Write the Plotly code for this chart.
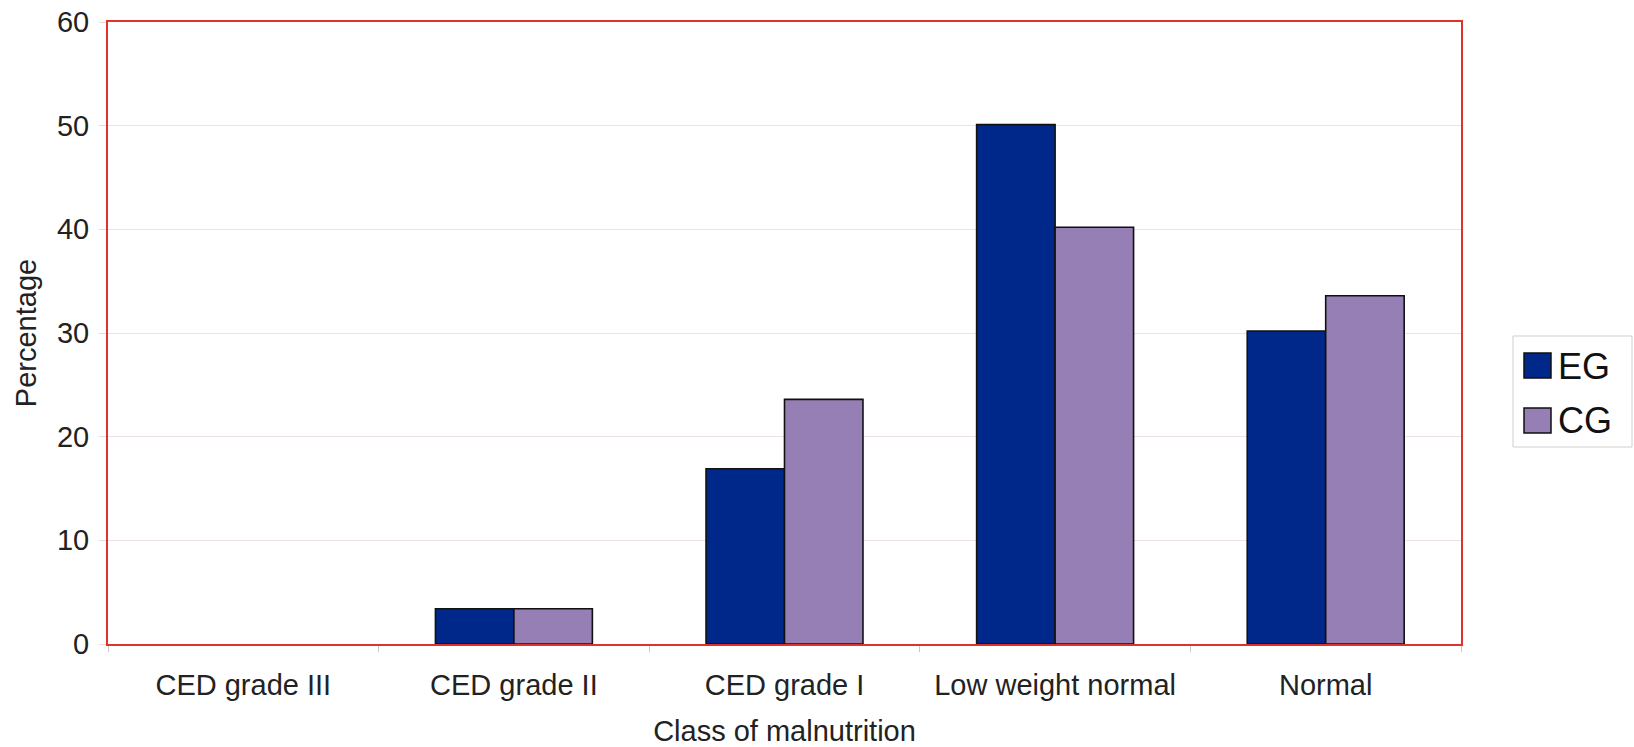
import plotly.graph_objects as go

# Share of subjects in each malnutrition class, by group
categories = ["CED grade III", "CED grade II", "CED grade I", "Low weight normal", "Normal"]
eg_values = [0, 3.4, 16.9, 50.1, 30.2]
cg_values = [0, 3.4, 23.6, 40.2, 33.6]
y_ticks = [0, 10, 20, 30, 40, 50, 60]

EG_COLOR = "#00288a"
CG_COLOR = "#967fb5"
FRAME_RED = "#e0322c"
FONT = "Liberation Sans, Arial, sans-serif"

W, H = 1634, 747
L, R, T, B = 108, 1461, 22, 644  # plot area in pixels

fig = go.Figure()
for name, vals, color in [("EG", eg_values, EG_COLOR), ("CG", cg_values, CG_COLOR)]:
    fig.add_trace(go.Bar(
        name=name, x=categories, y=vals,
        # empty bars get no outline so nothing shows along the baseline
        marker=dict(color=color,
                    line=dict(color="#111111", width=[1.6 if v > 0 else 0 for v in vals])),
        showlegend=False,
    ))

def px_x(p):
    return (p - L) / (R - L)

def px_y(p):
    return (B - p) / (B - T)

# Legend box drawn in paper space with square swatches
shapes = [dict(type="rect", xref="paper", yref="paper",
               x0=px_x(1513), x1=px_x(1632), y0=px_y(447), y1=px_y(336),
               line=dict(color="#cfcfcf", width=1), fillcolor="white")]
annotations = []
for i, (name, color) in enumerate([("EG", EG_COLOR), ("CG", CG_COLOR)]):
    top = 353 + i * 55
    shapes.append(dict(type="rect", xref="paper", yref="paper",
                       x0=px_x(1524), x1=px_x(1551), y0=px_y(top + 25), y1=px_y(top),
                       line=dict(color="#111111", width=1.5), fillcolor=color))
    annotations.append(dict(xref="paper", yref="paper", x=px_x(1556), y=px_y(top + 13),
                            text=name, showarrow=False, xanchor="left", yanchor="middle",
                            font=dict(size=36, color="#111111", family=FONT)))

fig.update_layout(
    width=W, height=H,
    margin=dict(l=L, r=W - R, t=T, b=H - B, pad=0),
    paper_bgcolor="white", plot_bgcolor="white",
    barmode="group", bargap=0.42, bargroupgap=0,
    font=dict(family=FONT, size=29, color="#222222"),
    shapes=shapes, annotations=annotations,
    xaxis=dict(
        type="category", automargin=False,
        showline=True, linecolor=FRAME_RED, linewidth=2, mirror=True,
        ticks="outside", tickson="boundaries", ticklen=6, tickcolor="#c8c8c8",
        ticklabelstandoff=14,
        title=dict(text="Class of malnutrition", standoff=28, font=dict(size=29)),
        showgrid=False,
    ),
    yaxis=dict(
        range=[0, 60], tickvals=y_ticks, automargin=False,
        showline=True, linecolor=FRAME_RED, linewidth=2, mirror=True,
        ticks="outside", ticklen=7, tickcolor="#e6dcdc",
        ticklabelstandoff=4,
        showgrid=True, gridcolor="#ece2e2", gridwidth=1,
        zeroline=False,
        title=dict(text="Percentage", standoff=12, font=dict(size=29)),
    ),
)

fig.write_html("out.html")
